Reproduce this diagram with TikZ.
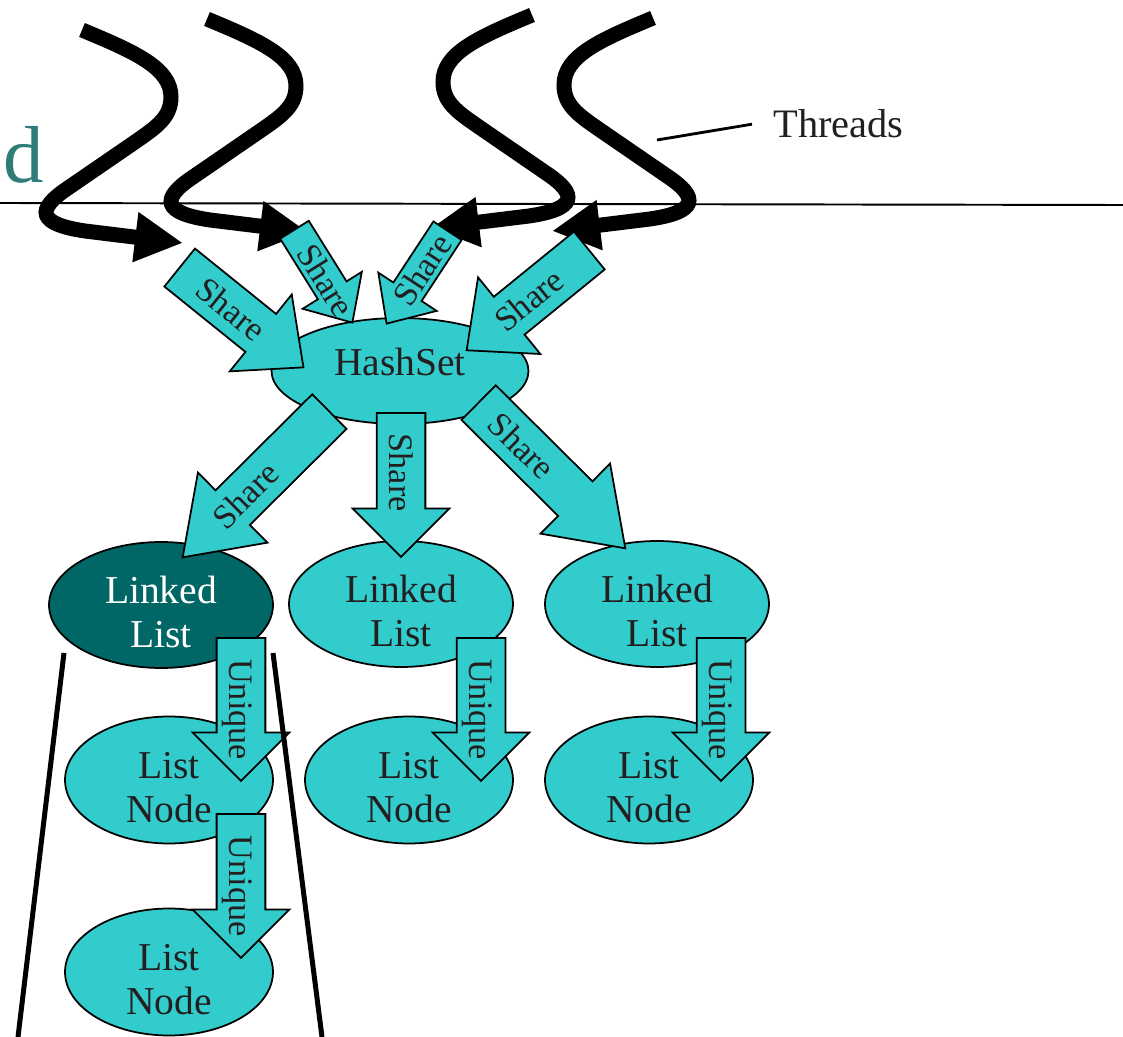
\documentclass[tikz,border=0pt]{standalone}
\usepackage{fontspec}
\setmainfont{Liberation Serif}
\usetikzlibrary{shapes.geometric,shapes.arrows,arrows.meta,calc}

\definecolor{cellcyan}{HTML}{33CCCC}
\definecolor{celldark}{HTML}{006666}
\definecolor{inkgray}{HTML}{231F20}
\definecolor{titleteal}{HTML}{2E7D78}

\tikzset{
  obj/.style={ellipse, draw=black, line width=1pt, fill=cellcyan, text=inkgray,
    inner sep=0pt, align=center, font=\fontsize{22.5}{25.5}\selectfont},
  hashobj/.style={obj, minimum width=5.14cm, minimum height=2.12cm,
    text height=0.7cm, text depth=0.5cm},
  listobj/.style={obj, minimum width=4.48cm, minimum height=2.52cm,
    text height=1.72cm, text depth=0cm},
  nodeobj/.style={obj, minimum width=4.16cm, minimum height=2.54cm,
    text height=1.72cm, text depth=0cm},
  owned/.style={fill=celldark, text=white},
  thread/.style={line width=0.3cm, -{Triangle[length=0.96cm,width=0.94cm]}},
  wall/.style={line width=0.1cm},
  ptr/.style={single arrow, draw=black, line width=1pt, fill=cellcyan, text=inkgray,
    inner xsep=0pt, inner ysep=0pt, font=\fontsize{19.5}{20}\selectfont,
    text height=0.71cm, text depth=0.23cm,
    single arrow head extend=0.48cm, single arrow tip angle=90},
  thinptr/.style={text height=0.56cm, text depth=0.08cm,
    single arrow head extend=0.36cm, single arrow tip angle=85},
  slantptr/.style={single arrow head extend=0.5cm, single arrow tip angle=84},
  sharpptr/.style={single arrow head extend=0.5cm, single arrow tip angle=70},
}

% block arrow: [style]{name}{tail}{tip}{label}, label kept readable
\newcommand\blockptr[5][]{%
  \path let \p1=($(#4)-(#3)$), \n1={atan2(\y1,\x1)}, \n2={veclen(\x1,\y1)},
      \n3={\n1<-90 ? 180 : 0} in
    node[ptr, #1, rotate=\n1+\n3, shape border rotate=\n3,
      minimum height=\n2, anchor=tail] (#2) at (#3) {\makebox[0pt]{#5}};}

\begin{document}
\begin{tikzpicture}[x=0.02cm, y=-0.02cm]
  \useasboundingbox (0,0) rectangle (1123,1037);

  % dividing rule and title fragment
  \coordinate (ruleL) at (0,203);
  \coordinate (ruleR) at (1123,205);
  \draw[line width=1.1pt] (ruleL) -- (ruleR);
  \node[anchor=base east, inner sep=0pt, text=titleteal,
    font=\fontsize{46}{50}\selectfont] (title) at (44,183) {d};

  % objects
  \node[hashobj] (hash) at (400,371) {HashSet};
  \node[listobj, owned] (ll1) at (161,605) {Linked\\List};
  \node[listobj] (ll2) at (401,604) {Linked\\List};
  \node[listobj] (ll3) at (657,604) {Linked\\List};
  \node[nodeobj] (ln1) at (169,780) {List\\Node};
  \node[nodeobj] (ln2) at (409,780) {List\\Node};
  \node[nodeobj] (ln3) at (649,780) {List\\Node};
  \node[nodeobj] (ln4) at (169,972) {List\\Node};

  % threads
  \begin{scope}
    \draw[thread] (82,30) .. controls (135,52) and (171,68) .. (171,97)
      .. controls (171,118) and (155,128) .. (135,142) -- (68,188)
      .. controls (35,210) and (38,224) .. (85,231) -- (183,243);
  \end{scope}
  \begin{scope}[shift={(125,-11)}]
    \draw[thread] (82,30) .. controls (135,52) and (171,68) .. (171,97)
      .. controls (171,118) and (155,128) .. (135,142) -- (68,188)
      .. controls (35,210) and (38,224) .. (85,231) -- (183,243);
  \end{scope}
  \begin{scope}[shift={(614,-15)}, xscale=-1]
    \draw[thread] (82,30) .. controls (135,52) and (171,68) .. (171,97)
      .. controls (171,118) and (155,128) .. (135,142) -- (68,188)
      .. controls (35,210) and (38,224) .. (85,231) -- (183,243);
  \end{scope}
  \begin{scope}[shift={(735,-12)}, xscale=-1]
    \draw[thread] (82,30) .. controls (135,52) and (171,68) .. (171,97)
      .. controls (171,118) and (155,128) .. (135,142) -- (68,188)
      .. controls (35,210) and (38,224) .. (85,231) -- (183,243);
  \end{scope}

  % share / unique pointers
  \coordinate (sh1a) at (179,267); \coordinate (sh1b) at (303,367);
  \coordinate (sh2a) at (294,229); \coordinate (sh2b) at (352,322);
  \coordinate (sh3a) at (448,230); \coordinate (sh3b) at (387,323);
  \coordinate (sh4a) at (590,250); \coordinate (sh4b) at (467,350);
  \coordinate (sh5a) at (330,411); \coordinate (sh5b) at (183,557);
  \coordinate (sh6a) at (401,412); \coordinate (sh6b) at (401,556);
  \coordinate (sh7a) at (478,402); \coordinate (sh7b) at (625,548);
  \blockptr[slantptr]{sh1}{sh1a}{sh1b}{Share}
  \blockptr[thinptr]{sh2}{sh2a}{sh2b}{\hspace*{0.56cm}Share}
  \blockptr[thinptr]{sh3}{sh3a}{sh3b}{Share}
  \blockptr[slantptr]{sh4}{sh4a}{sh4b}{\hspace*{-0.5cm}Share}
  \blockptr[sharpptr]{sh5}{sh5a}{sh5b}{\hspace*{-1.3cm}Share}
  \blockptr{sh6}{sh6a}{sh6b}{Share}
  \blockptr[sharpptr]{sh7}{sh7a}{sh7b}{\hspace*{-1cm}Share}

  \coordinate (un1a) at (241,637); \coordinate (un1b) at (241,780);
  \coordinate (un2a) at (241,813); \coordinate (un2b) at (241,957);
  \coordinate (un3a) at (481,637); \coordinate (un3b) at (481,780);
  \coordinate (un4a) at (721,637); \coordinate (un4b) at (721,780);
  \blockptr{un1}{un1a}{un1b}{\hspace*{0.5cm}Unique}
  \blockptr{un2}{un2a}{un2b}{\hspace*{0.5cm}Unique}
  \blockptr{un3}{un3a}{un3b}{\hspace*{0.5cm}Unique}
  \blockptr{un4}{un4a}{un4b}{\hspace*{0.5cm}Unique}

  % label for the threads
  \node[anchor=base west, inner sep=0pt, text=inkgray,
    font=\fontsize{23}{26}\selectfont] (threads) at (773,138) {Threads};
  \coordinate (lead) at (657,140);
  \draw[line width=1.6pt] (lead) -- ([xshift=-0.42cm]threads.west);

  % boundary of the unique region
  \coordinate (capL1) at (64,653); \coordinate (capL2) at (18,1037);
  \coordinate (capR1) at (273,653); \coordinate (capR2) at (322,1037);
  \draw[wall] (capL1) -- (capL2);
  \draw[wall] (capR1) -- (capR2);
\end{tikzpicture}
\end{document}
